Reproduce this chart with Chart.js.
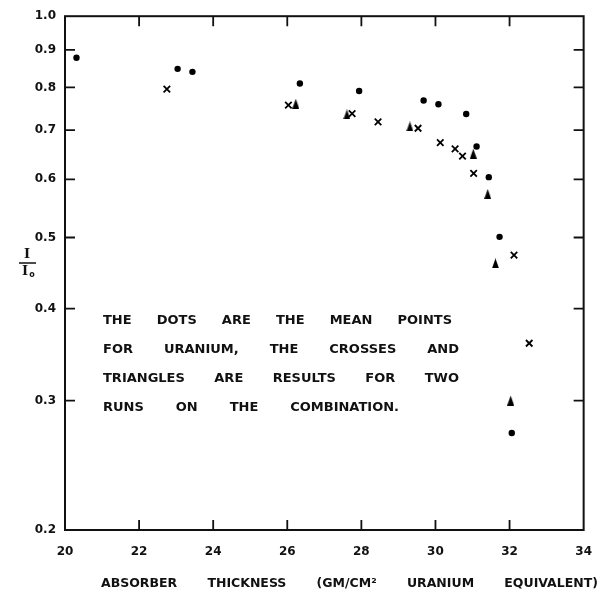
<!DOCTYPE html>
<html>
<head>
<meta charset="utf-8">
<script src="https://cdn.jsdelivr.net/npm/chart.js@4/dist/chart.umd.min.js"></script>
<style>
  body { margin: 0; background: #fff; }
  #wrap { width: 607px; height: 594px; position: relative; }
</style>
</head>
<body>
<div id="wrap"><canvas id="absChart"></canvas></div>
<script>
// mean points for uranium (dots)
const dotX = [20.31, 23.04, 23.44, 26.34, 27.94, 29.68, 30.08, 30.83, 31.11, 31.44, 31.73, 32.06];
const dotY = [0.878, 0.848, 0.840, 0.810, 0.791, 0.768, 0.759, 0.736, 0.665, 0.604, 0.501, 0.271];
// first run on the combination (crosses)
const crossX = [22.75, 26.03, 27.75, 28.45, 29.53, 30.13, 30.53, 30.73, 31.03, 32.12, 32.53];
const crossY = [0.796, 0.757, 0.737, 0.718, 0.704, 0.673, 0.660, 0.645, 0.611, 0.473, 0.359];
// second run on the combination (triangles)
const triX = [26.23, 27.61, 29.31, 31.02, 31.41, 31.62, 32.03];
const triY = [0.760, 0.735, 0.708, 0.650, 0.573, 0.461, 0.300];

const xTicks = [20, 22, 24, 26, 28, 30, 32, 34];
const yTicks = [0.2, 0.3, 0.4, 0.5, 0.6, 0.7, 0.8, 0.9, 1.0];
const yTickLabels = ['0.2', '0.3', '0.4', '0.5', '0.6', '0.7', '0.8', '0.9', '1.0'];

const noteLines = [
  'THE DOTS ARE THE MEAN POINTS',
  'FOR URANIUM, THE CROSSES AND',
  'TRIANGLES ARE RESULTS FOR TWO',
  'RUNS ON THE COMBINATION.'
];
const xTitle = 'ABSORBER THICKNESS (GM/CM\u00B2 URANIUM EQUIVALENT)';

function pairs(xs, ys) {
  return xs.map((x, i) => ({ x: x, y: ys[i] }));
}

// narrow filled triangle used for the second run
const triMark = document.createElement('canvas');
triMark.width = 7;
triMark.height = 10;
(function () {
  const c = triMark.getContext('2d');
  c.fillStyle = '#000';
  c.beginPath();
  c.moveTo(3.5, 0);
  c.lineTo(7, 10);
  c.lineTo(0, 10);
  c.closePath();
  c.fill();
})();

// spreads the words of a line evenly between two x positions
function drawJustified(ctx, text, x0, x1, y) {
  const words = text.split(' ');
  const widths = words.map(w => ctx.measureText(w).width);
  const total = widths.reduce((a, b) => a + b, 0);
  const gap = words.length > 1 ? (x1 - x0 - total) / (words.length - 1) : 0;
  let x = x0;
  words.forEach((w, i) => {
    ctx.fillText(w, x, y);
    x += widths[i] + gap;
  });
}

const framePlugin = {
  id: 'frame',
  afterDraw(chart) {
    const ctx = chart.ctx;
    const a = chart.chartArea;
    const xs = chart.scales.x;
    const ys = chart.scales.y;
    ctx.save();
    ctx.strokeStyle = '#111';
    ctx.lineWidth = 2;
    ctx.strokeRect(a.left, a.top, a.right - a.left, a.bottom - a.top);

    // inward ticks on all four sides
    ctx.lineWidth = 1.8;
    ctx.beginPath();
    xTicks.slice(1, -1).forEach(v => {
      const px = xs.getPixelForValue(v);
      ctx.moveTo(px, a.bottom);
      ctx.lineTo(px, a.bottom - 10);
      ctx.moveTo(px, a.top);
      ctx.lineTo(px, a.top + 10);
    });
    yTicks.slice(1, -1).forEach(v => {
      const py = ys.getPixelForValue(v);
      ctx.moveTo(a.left, py);
      ctx.lineTo(a.left + 10, py);
      ctx.moveTo(a.right, py);
      ctx.lineTo(a.right - 10, py);
    });
    ctx.stroke();

    ctx.fillStyle = '#111';
    ctx.textBaseline = 'middle';
    ctx.textAlign = 'left';

    // note inside the plot
    ctx.font = 'bold 13px "DejaVu Sans"';
    drawJustified(ctx, noteLines[0], 103, 452, 321);
    drawJustified(ctx, noteLines[1], 103, 459, 350);
    drawJustified(ctx, noteLines[2], 103, 459, 379);
    drawJustified(ctx, noteLines[3], 103, 399, 408);

    // x axis title
    ctx.font = 'bold 12.5px "DejaVu Sans"';
    drawJustified(ctx, xTitle, 101, 598, 584);

    // y axis title: I over I0
    ctx.textAlign = 'center';
    ctx.font = 'bold 13px "DejaVu Serif"';
    ctx.fillText('I', 27, 255);
    ctx.fillText('I', 25, 272);
    ctx.font = 'bold 8px "DejaVu Sans"';
    ctx.fillText('o', 32, 275);
    ctx.lineWidth = 1.5;
    ctx.beginPath();
    ctx.moveTo(19, 263);
    ctx.lineTo(36, 263);
    ctx.stroke();
    ctx.restore();
  }
};

const tickFont = { family: 'DejaVu Sans', weight: 'bold', size: 12 };

new Chart(document.getElementById('absChart'), {
  type: 'scatter',
  data: {
    datasets: [
      {
        label: 'Uranium mean',
        data: pairs(dotX, dotY),
        pointStyle: 'circle',
        pointRadius: 3.2,
        backgroundColor: '#000',
        borderWidth: 0
      },
      {
        label: 'Run 1',
        data: pairs(crossX, crossY),
        pointStyle: 'crossRot',
        pointRadius: 4.6,
        borderColor: '#000',
        borderWidth: 1.8
      },
      {
        label: 'Run 2',
        data: pairs(triX, triY),
        pointStyle: triMark
      }
    ]
  },
  plugins: [framePlugin],
  options: {
    responsive: true,
    maintainAspectRatio: false,
    animation: false,
    layout: { padding: { left: 0, top: 9, right: 13, bottom: 0 } },
    plugins: {
      legend: { display: false },
      tooltip: { enabled: false }
    },
    scales: {
      x: {
        type: 'linear',
        min: 20,
        max: 34,
        grid: { display: false, drawTicks: false },
        border: { display: false },
        afterBuildTicks: s => { s.ticks = xTicks.map(v => ({ value: v })); },
        afterFit: s => { s.height = 64; },
        ticks: {
          color: '#111',
          font: tickFont,
          padding: 15,
          maxRotation: 0,
          callback: v => String(v)
        }
      },
      y: {
        type: 'logarithmic',
        min: 0.2,
        max: 1.0,
        grid: { display: false, drawTicks: false },
        border: { display: false },
        afterBuildTicks: s => { s.ticks = yTicks.map(v => ({ value: v })); },
        afterFit: s => { s.width = 65; },
        ticks: {
          color: '#111',
          font: tickFont,
          padding: 9,
          callback: function (v) {
            const i = yTicks.findIndex(t => Math.abs(t - v) < 1e-6);
            return i >= 0 ? yTickLabels[i] : '';
          }
        }
      }
    }
  }
});
</script>
</body>
</html>
